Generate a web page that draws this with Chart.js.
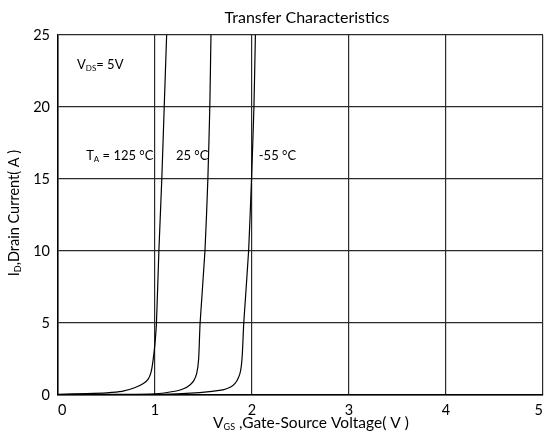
<!DOCTYPE html>
<html>
<head>
<meta charset="utf-8">
<script src="https://cdn.jsdelivr.net/npm/chart.js@4"></script>
<style>
    html, body { margin: 0; padding: 0; background: #fff; }
    #wrap { width: 545px; height: 436px; }
</style>
</head>
<body>
<div id="wrap"><canvas id="transferChart" width="545" height="436"></canvas></div>
<script>
// values
const vgs125 = [0, 0.3, 0.5, 0.66, 0.79, 0.88, 0.93, 0.96, 0.98, 1.0, 1.015, 1.04, 1.07, 1.095, 1.12];
const id125  = [0.05, 0.1, 0.15, 0.25, 0.5, 0.8, 1.1, 1.6, 2.4, 3.6, 5, 10, 15, 20, 25];

const vgs25 = [0, 0.5, 1.0, 1.22, 1.30, 1.36, 1.40, 1.43, 1.45, 1.465, 1.515, 1.545, 1.565, 1.577];
const id25  = [0.02, 0.04, 0.08, 0.28, 0.45, 0.7, 1.0, 1.5, 2.5, 5, 10, 15, 20, 25];

const vgsM55 = [0, 1.0, 1.46, 1.70, 1.78, 1.825, 1.86, 1.883, 1.90, 1.915, 1.965, 1.995, 2.02, 2.035];
const idM55  = [0, 0.03, 0.16, 0.35, 0.55, 0.8, 1.2, 1.7, 2.8, 5, 10, 15, 20, 25];

const xTicks = [0, 1, 2, 3, 4, 5];
const yTicks = [0, 5, 10, 15, 20, 25];

const FONT = "Lato, 'Open Sans', sans-serif";

// text pieces: [text, isSubscript]
const notes = [
    { x: 0.196, y: 22.9, parts: [["V", false], ["DS", true], ["= 5V", false]] },
    { x: 0.29,  y: 16.6, parts: [["T", false], ["A", true], [" = 125 °C", false]] },
    { x: 1.216, y: 16.6, parts: [["25 °C", false]] },
    { x: 2.07,  y: 16.6, parts: [["-55 °C", false]] }
];

function toPoints(xs, ys) {
    return xs.map((x, i) => ({ x: x, y: ys[i] }));
}

function drawParts(ctx, parts, x, y, size, align) {
    const sub = Math.round(size * 0.6);
    let total = 0;
    parts.forEach(([t, s]) => {
        ctx.font = (s ? sub : size) + "px " + FONT;
        total += ctx.measureText(t).width;
    });
    let cx = align === "center" ? x - total / 2 : x;
    ctx.textAlign = "left";
    ctx.textBaseline = "middle";
    parts.forEach(([t, s]) => {
        ctx.font = (s ? sub : size) + "px " + FONT;
        ctx.fillText(t, cx, s ? y + size * 0.25 : y);
        cx += ctx.measureText(t).width;
    });
}

const textPlugin = {
    id: "datasheetText",
    afterDraw(chart) {
        const ctx = chart.ctx;
        const xs = chart.scales.x;
        const ys = chart.scales.y;
        ctx.save();
        ctx.fillStyle = "#000";

        // title
        drawParts(ctx, [["Transfer Characteristics", false]], 307, 18, 16, "center");

        // x axis title
        drawParts(ctx, [["V", false], ["GS", true], [" ,Gate-Source Voltage( V )", false]], 311, 423, 15.5, "center");

        // y axis title (rotated)
        ctx.save();
        ctx.translate(14, 213);
        ctx.rotate(-Math.PI / 2);
        drawParts(ctx, [["I", false], ["D", true], [",Drain Current( A )", false]], 0, 0, 14.5, "center");
        ctx.restore();

        // in-plot notes
        notes.forEach(n => {
            drawParts(ctx, n.parts, xs.getPixelForValue(n.x), ys.getPixelForValue(n.y), 13, "left");
        });
        ctx.restore();
    }
};

const lineStyle = {
    borderColor: "#000",
    borderWidth: 1.2,
    pointRadius: 0,
    showLine: true,
    tension: 0.2,
    fill: false
};

new Chart(document.getElementById("transferChart"), {
    type: "scatter",
    data: {
        datasets: [
            Object.assign({ label: "125 °C", data: toPoints(vgs125, id125) }, lineStyle),
            Object.assign({ label: "25 °C", data: toPoints(vgs25, id25) }, lineStyle),
            Object.assign({ label: "-55 °C", data: toPoints(vgsM55, idM55) }, lineStyle)
        ]
    },
    options: {
        responsive: false,
        animation: false,
        layout: { padding: { top: 35, right: 2, left: 0, bottom: 0 } },
        plugins: {
            legend: { display: false },
            title: { display: false },
            tooltip: { enabled: false }
        },
        scales: {
            x: {
                type: "linear",
                min: 0,
                max: 5,
                afterFit: s => { s.height = 41; s.paddingLeft = 0; s.paddingRight = 0; },
                afterBuildTicks: s => { s.ticks = xTicks.map(v => ({ value: v })); },
                grid: { color: "#2a2a2a", lineWidth: 1.2, drawTicks: false },
                border: { color: "#000", width: 1.5 },
                ticks: { color: "#000", padding: 7, align: "inner", font: { family: FONT, size: 14.5 } }
            },
            y: {
                type: "linear",
                min: 0,
                max: 25,
                afterFit: s => { s.width = 58; s.paddingTop = 0; s.paddingBottom = 0; },
                afterBuildTicks: s => { s.ticks = yTicks.map(v => ({ value: v })); },
                grid: { color: "#2a2a2a", lineWidth: 1.2, drawTicks: false },
                border: { color: "#000", width: 1.5 },
                ticks: { color: "#000", padding: 8, font: { family: FONT, size: 14.5 } }
            }
        }
    },
    plugins: [textPlugin]
});
</script>
</body>
</html>
